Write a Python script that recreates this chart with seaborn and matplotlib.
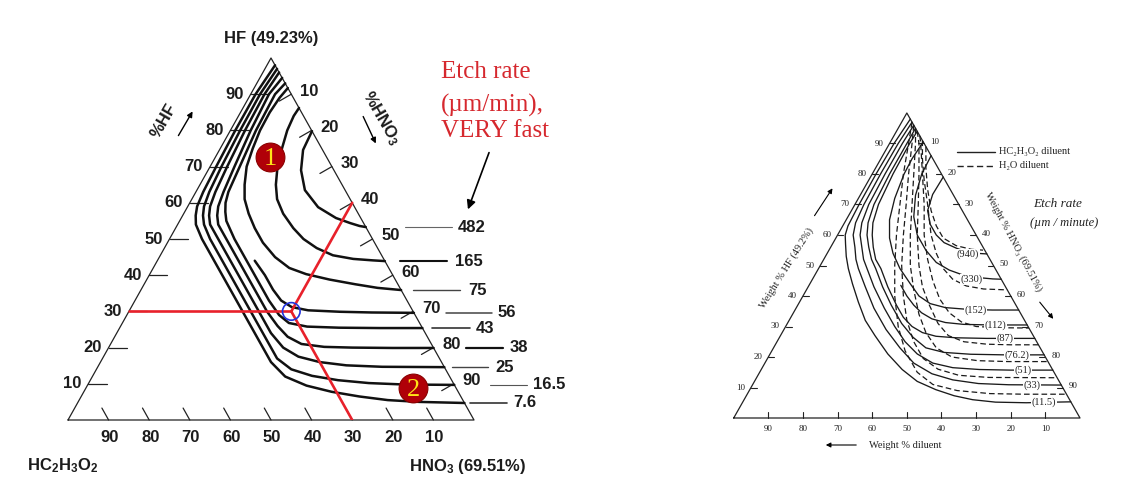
import matplotlib
matplotlib.use('Agg')
import matplotlib.pyplot as plt
import numpy as np
import pandas as pd
import seaborn as sns
from matplotlib.patches import FancyArrowPatch
from matplotlib.lines import Line2D

sns.set_theme(style='white')
plt.rcParams['font.family'] = ['Liberation Sans', 'DejaVu Sans']
plt.rcParams['mathtext.fontset'] = 'custom'
plt.rcParams['mathtext.rm'] = 'Liberation Sans:bold'
plt.rcParams['mathtext.it'] = 'Liberation Sans:bold'
plt.rcParams['mathtext.bf'] = 'Liberation Sans:bold'
plt.rcParams['mathtext.default'] = 'rm'

# ------------------------------------------------------------------
# DATA  (ternary compositions: % HF, % HNO3 ; remainder = diluent)
# ------------------------------------------------------------------
ticks = [10, 20, 30, 40, 50, 60, 70, 80, 90]

# Left diagram: iso-etch-rate curves (um/min), HC2H3O2 diluent
left_rates = ['482', '165', '75', '56', '43', '38', '25', '16.5', '7.6']
hf_482 = [79.8, 74.6, 69.0, 63.5, 58.8, 55.8, 54.4, 53.6, 53.3]
hno3_482 = [20.2, 20.6, 22.9, 26.6, 32.2, 38.1, 42.3, 45.0, 46.7]
hf_165 = [86.2, 84.0, 80.0, 75.0, 70.0, 65.0, 61.0, 57.0, 53.0, 50.0, 47.5, 45.5, 44.5, 44.1, 43.9]
hno3_165 = [13.8, 13.6, 14.0, 15.2, 16.6, 18.7, 21.0, 24.5, 29.0, 33.0, 37.5, 42.5, 48.0, 53.0, 56.1]
hf_75 = [91.7, 89.0, 85.0, 80.0, 75.0, 70.0, 65.0, 61.0, 57.0, 53.0, 49.0, 45.0, 42.0, 40.3, 38.8, 37.5, 36.5, 35.9]
hno3_75 = [8.3, 7.6, 7.2, 7.3, 8.0, 9.0, 11.0, 13.0, 16.0, 19.5, 23.5, 28.5, 33.5, 38.5, 45.0, 52.0, 58.0, 64.1]
hf_56 = [44.0, 40.0, 36.0, 33.0, 31.2, 30.3, 29.9, 29.7, 29.6]
hno3_56 = [24.0, 28.5, 32.5, 36.0, 39.5, 44.0, 52.0, 60.0, 70.4]
hf_43 = [93.0, 90.0, 80.0, 70.0, 63.0, 60.0, 57.5, 55.0, 50.0, 40.0, 33.0, 29.0, 26.8, 25.8, 25.5, 25.4, 25.4]
hno3_43 = [7.0, 6.0, 6.3, 7.3, 8.0, 8.8, 10.0, 11.5, 16.0, 26.0, 33.0, 37.5, 41.0, 46.0, 54.0, 64.0, 74.6]
hf_38 = [94.5, 90.0, 80.0, 70.0, 63.0, 59.0, 56.5, 54.0, 50.0, 40.0, 30.0, 26.0, 23.0, 21.0, 20.2, 20.0, 19.9, 19.9]
hno3_38 = [5.5, 4.5, 5.0, 6.0, 6.8, 7.5, 8.5, 10.0, 14.0, 24.0, 34.0, 38.6, 42.6, 47.0, 53.0, 60.0, 70.0, 80.1]
hf_25 = [96.0, 90.0, 80.0, 70.0, 63.0, 59.0, 56.5, 54.0, 50.0, 40.0, 30.0, 24.0, 20.0, 17.5, 16.0, 15.1, 14.7, 14.6]
hno3_25 = [4.0, 3.4, 3.6, 4.2, 4.8, 5.5, 6.5, 8.0, 12.0, 22.0, 32.0, 38.0, 43.0, 48.0, 54.0, 61.0, 70.0, 85.4]
hf_16 = [97.0, 90.0, 80.0, 70.0, 63.0, 59.0, 56.5, 54.0, 50.0, 40.0, 30.0, 22.0, 17.0, 14.0, 12.2, 11.0, 10.2, 9.8, 9.7]
hno3_16 = [3.0, 2.3, 2.4, 2.8, 3.3, 4.0, 5.0, 6.5, 10.0, 20.0, 30.0, 38.0, 43.0, 48.0, 54.0, 61.0, 69.0, 78.0, 90.3]
hf_7 = [98.0, 90.0, 80.0, 70.0, 63.0, 59.0, 56.5, 54.0, 50.0, 40.0, 30.0, 22.0, 16.0, 12.0, 9.5, 7.8, 6.5, 5.5, 5.0, 4.7]
hno3_7 = [2.0, 1.2, 1.2, 1.5, 1.8, 2.3, 3.2, 4.5, 8.0, 18.0, 28.0, 36.0, 42.0, 47.5, 54.0, 61.0, 68.5, 76.0, 84.0, 95.3]

# Composition read by the red construction lines
point_hf = [30]
point_hno3 = [40]
# numbered markers
marker_labels = ['1', '2']
marker_hf = [72.7, 8.8]
marker_hno3 = [13.4, 80.6]

# Right diagram: solid = HC2H3O2 diluent, dashed = H2O diluent
right_rates = ['(940)', '(330)', '(152)', '(112)', '(87)', '(76.2)', '(51)', '(33)', '(11.5)']
hf_r940 = [79.0, 73.3, 68.0, 63.5, 60.0, 57.5, 55.7, 54.5, 54.0, 53.8]
hno3_r940 = [21.0, 20.8, 22.0, 25.0, 28.5, 32.0, 36.4, 40.0, 43.0, 46.2]
hf_r330 = [86.0, 80.0, 73.0, 66.0, 60.0, 55.0, 51.0, 48.5, 46.8, 46.0, 45.6, 45.5]
hno3_r330 = [14.0, 14.3, 16.0, 19.0, 23.0, 28.0, 33.0, 38.0, 43.0, 48.0, 52.0, 54.5]
hf_r152 = [90.5, 85.0, 80.0, 72.0, 65.0, 59.0, 54.0, 49.0, 44.0, 40.0, 37.5, 36.2, 35.6, 35.4, 35.4]
hno3_r152 = [9.5, 9.0, 9.2, 10.5, 12.5, 15.5, 19.0, 23.5, 29.0, 33.5, 38.0, 43.0, 50.0, 57.0, 64.6]
hf_r112 = [43.5, 40.0, 37.0, 34.5, 32.5, 31.3, 30.7, 30.5, 30.5]
hno3_r112 = [26.5, 30.0, 33.5, 37.0, 41.0, 45.5, 51.0, 59.0, 69.5]
hf_r87 = [94.0, 90.0, 80.0, 70.0, 64.0, 60.0, 56.0, 52.0, 49.0, 43.0, 37.0, 33.0, 30.0, 28.0, 26.8, 26.3, 26.1, 26.1]
hno3_r87 = [6.0, 5.8, 6.0, 6.8, 8.2, 10.0, 12.3, 15.0, 18.0, 23.0, 28.5, 32.5, 36.5, 40.5, 45.0, 51.0, 60.0, 73.9]
hf_r76 = [95.0, 90.0, 80.0, 70.0, 64.0, 60.0, 56.0, 52.0, 49.0, 43.0, 37.0, 31.0, 26.5, 23.0, 21.5, 20.9, 20.7, 20.7]
hno3_r76 = [5.0, 5.0, 5.0, 5.5, 6.8, 8.5, 11.0, 13.8, 16.5, 21.5, 27.0, 33.0, 38.5, 44.0, 50.0, 58.0, 68.0, 79.3]
hf_r51 = [96.0, 90.0, 80.0, 70.0, 64.0, 60.0, 56.0, 52.0, 49.0, 43.0, 36.0, 30.0, 25.0, 21.0, 18.0, 16.5, 15.9, 15.7, 15.7]
hno3_r51 = [4.0, 3.7, 3.7, 4.0, 5.0, 6.5, 9.0, 11.5, 14.0, 19.0, 25.5, 31.5, 37.0, 42.5, 48.5, 55.0, 63.0, 72.0, 84.3]
hf_r33 = [97.0, 90.0, 80.0, 70.0, 64.0, 60.0, 56.0, 52.0, 49.0, 43.0, 36.0, 29.0, 23.0, 18.0, 14.5, 12.5, 11.3, 10.9, 10.8]
hno3_r33 = [3.0, 2.5, 2.4, 2.6, 3.2, 4.5, 7.0, 9.3, 11.5, 16.5, 22.5, 29.5, 36.5, 43.0, 50.0, 57.0, 65.0, 74.0, 89.2]
hf_r11 = [98.0, 90.0, 80.0, 70.0, 63.0, 60.0, 57.0, 53.0, 49.0, 44.0, 38.0, 32.0, 27.0, 21.0, 15.9, 12.0, 9.3, 7.3, 6.0, 5.2, 5.0, 5.2, 5.3]
hno3_r11 = [2.0, 1.3, 1.1, 1.2, 1.5, 2.2, 3.8, 6.0, 8.6, 12.3, 17.0, 22.0, 27.3, 34.0, 40.7, 47.0, 53.7, 60.0, 66.0, 73.0, 82.0, 90.0, 94.7]

hf_d1 = [89.0, 82.0, 75.0, 68.0, 63.0, 59.0, 56.5, 55.3, 55.0]
hno3_d1 = [11.0, 14.5, 18.5, 23.0, 27.0, 31.0, 36.0, 41.0, 45.0]
hf_d2 = [91.0, 85.0, 78.0, 70.0, 60.0, 54.0, 49.0, 45.5, 43.3, 42.3, 42.0]
hno3_d2 = [9.0, 12.0, 16.0, 21.0, 27.0, 31.5, 36.0, 40.5, 45.5, 51.0, 58.0]
hf_d3 = [92.5, 90.0, 80.0, 70.0, 60.0, 52.0, 45.0, 39.0, 34.5, 31.5, 30.0, 29.6, 29.5]
hno3_d3 = [7.5, 9.0, 14.5, 20.0, 25.0, 30.0, 35.0, 40.0, 45.0, 50.0, 55.0, 62.0, 70.5]
hf_d4 = [94.0, 90.0, 80.0, 70.0, 60.0, 50.0, 43.0, 37.0, 31.0, 27.0, 25.0, 24.2, 24.0, 24.0]
hno3_d4 = [6.0, 8.5, 13.5, 18.3, 23.0, 28.5, 33.0, 38.0, 43.5, 48.5, 54.0, 61.0, 68.0, 76.0]
hf_d5 = [95.0, 90.0, 80.0, 70.0, 60.0, 50.0, 42.0, 34.0, 28.0, 23.0, 20.0, 18.8, 18.5, 18.5]
hno3_d5 = [5.0, 7.5, 12.0, 16.5, 21.0, 26.0, 31.0, 36.5, 41.5, 47.0, 53.0, 61.0, 70.0, 81.5]
hf_d6 = [96.0, 90.0, 80.0, 70.0, 60.0, 50.0, 40.0, 32.0, 25.0, 19.5, 16.0, 14.0, 13.3, 13.2]
hno3_d6 = [4.0, 6.5, 10.5, 14.8, 19.0, 23.5, 29.0, 34.0, 39.5, 45.0, 51.0, 58.0, 67.0, 86.8]
hf_d7 = [97.0, 90.0, 80.0, 70.0, 60.0, 50.0, 40.0, 30.0, 22.0, 15.0, 11.0, 9.0, 8.0, 7.8, 7.8]
hno3_d7 = [3.0, 5.5, 9.0, 13.0, 17.0, 21.5, 26.5, 32.5, 38.5, 45.5, 52.0, 60.0, 70.0, 80.0, 92.2]

left_hf = [hf_482, hf_165, hf_75, hf_56, hf_43, hf_38, hf_25, hf_16, hf_7]
left_hno3 = [hno3_482, hno3_165, hno3_75, hno3_56, hno3_43, hno3_38, hno3_25, hno3_16, hno3_7]
right_hf = [hf_r940, hf_r330, hf_r152, hf_r112, hf_r87, hf_r76, hf_r51, hf_r33, hf_r11]
right_hno3 = [hno3_r940, hno3_r330, hno3_r152, hno3_r112, hno3_r87, hno3_r76, hno3_r51, hno3_r33, hno3_r11]
dash_hf = [hf_d1, hf_d2, hf_d3, hf_d4, hf_d5, hf_d6, hf_d7]
dash_hno3 = [hno3_d1, hno3_d2, hno3_d3, hno3_d4, hno3_d5, hno3_d6, hno3_d7]


# ------------------------------------------------------------------
def tern(hf, hno3):
    """ternary (HF, HNO3) -> cartesian in a 0..100 box (HF apex on top)."""
    hf = np.asarray(hf, float)
    hno3 = np.asarray(hno3, float)
    return hno3 + hf / 2.0, hf


def curves_frame(names, hfs, hnos):
    frames = []
    for n, h, q in zip(names, hfs, hnos):
        x, y = tern(h, q)
        frames.append(pd.DataFrame({'x': x, 'y': y, 'curve': n, 'k': np.arange(len(x))}))
    return pd.concat(frames, ignore_index=True)


W, H = 1148, 494
fig = plt.figure(figsize=(W / 100, H / 100), dpi=100)
fig.patch.set_facecolor('white')


def fx(px):
    return px / W


def fy(py):
    return 1 - py / H


def farrow(p0, p1, lw=1.0, ms=10, color='black'):
    a = FancyArrowPatch((fx(p0[0]), fy(p0[1])), (fx(p1[0]), fy(p1[1])),
                        transform=fig.transFigure, arrowstyle='-|>',
                        mutation_scale=ms, lw=lw, color=color)
    fig.add_artist(a)


# ============================ LEFT ================================
axL = fig.add_axes([68 / W, 74 / H, 406 / W, 362 / H])
axL.set_xlim(0, 100)
axL.set_ylim(0, 100)
axL.axis('off')
PXL = 406 / 100.0

lab_kw = dict(fontsize=12, fontweight='bold', color='#1c1c1c')

# triangle
tx, ty = tern([0, 0, 100, 0], [0, 100, 0, 0])
axL.plot(tx, ty, color='#222', lw=0.9, clip_on=False)
for v in ticks:
    # left side (HF)
    x, y = tern([v, v], [0, 4.5])
    axL.plot(x, y, color='#222', lw=0.9, clip_on=False)
    axL.annotate(str(v), xy=(x[0], y[0]), xytext=(-7, 0), textcoords='offset pixels',
                 ha='right', va='center', **lab_kw)
    # bottom (HC2H3O2)
    x, y = tern([0, 3.3], [100 - v, 100 - v - 3.3])
    axL.plot(x, y, color='#222', lw=0.9, clip_on=False)
    axL.annotate(str(v), xy=(x[0], y[0]), xytext=(1, -17), textcoords='offset pixels',
                 ha='center', va='center', **lab_kw)
    # right side (HNO3)
    x, y = tern([100 - v, 100 - v - 1.9], [v, v - 2.0])
    axL.plot(x, y, color='#222', lw=0.9, clip_on=False)
    axL.annotate(str(v), xy=(x[0], y[0]), xytext=(9, 3), textcoords='offset pixels',
                 ha='left', va='center', **lab_kw)

dfL = curves_frame(left_rates, left_hf, left_hno3)
sns.lineplot(data=dfL, x='x', y='y', units='curve', estimator=None, sort=False,
             color='#111111', lw=1.8, legend=False, ax=axL)
for ln in axL.lines:
    ln.set_solid_joinstyle('round')
    ln.set_solid_capstyle('round')

# red construction lines through the composition point, and blue circle
red = '#e8212b'
px_, py_ = tern(point_hf, point_hno3)
x, y = tern([point_hf[0], point_hf[0]], [0, point_hno3[0]])
axL.plot(x, y, color=red, lw=1.9, zorder=4)
x, y = tern([point_hf[0], 100 - point_hno3[0]], [point_hno3[0], point_hno3[0]])
axL.plot(x, y, color=red, lw=1.9, zorder=4)
x, y = tern([point_hf[0], 0], [point_hno3[0], point_hno3[0] + point_hf[0]])
axL.plot(x, y, color=red, lw=1.9, zorder=4)
axL.scatter(px_, py_, s=160, facecolors='none', edgecolors='#2233dd', linewidths=1.2, zorder=5)

# numbered markers
mx, my = tern(marker_hf, marker_hno3)
sns.scatterplot(x=mx, y=my, s=430, color='#b00008', edgecolor='#8a0000', linewidth=0.8,
                ax=axL, zorder=6, legend=False)
for t, a, b in zip(marker_labels, mx, my):
    axL.text(a, b - 0.6, t, ha='center', va='center', color='#ffe418', fontsize=19,
             family='Liberation Serif', zorder=7)

# rate labels with leader lines
lead_start = [39, 15, 12, 32, 10, 32, 8, 36, 6]
lead_end = [86, 62, 59, 78, 48, 69, 44, 73, 43]
lead_text = [92, 70, 67, 84, 53, 76, 51, 79, 49]
lead_lw = [0.8, 1.5, 1.0, 1.1, 1.2, 1.6, 1.0, 0.8, 1.2]
lead_col = ['#666', '#111', '#444', '#444', '#333', '#111', '#444', '#555', '#333']
for name, h, q, s0, e0, t0, lw, c in zip(left_rates, left_hf, left_hno3, lead_start,
                                          lead_end, lead_text, lead_lw, lead_col):
    xe, ye = tern([h[-1]], [q[-1]])
    axL.plot([xe[0] + s0 / PXL, xe[0] + e0 / PXL], [ye[0], ye[0]], color=c, lw=lw, clip_on=False)
    axL.text(xe[0] + t0 / PXL, ye[0], name, ha='left', va='center', clip_on=False, **lab_kw)

# vertex titles
axL.annotate('HF (49.23%)', xy=(50, 100), xytext=(0, 20), textcoords='offset pixels',
             ha='center', va='center', **lab_kw)
axL.annotate(r'HC$_2$H$_3$O$_2$', xy=(0, 0), xytext=(-41, -46), textcoords='offset pixels',
             ha='left', va='center', **lab_kw)
axL.annotate(r'HNO$_3$ (69.51%)', xy=(100, 0), xytext=(-6, -46), textcoords='offset pixels',
             ha='center', va='center', **lab_kw)

fig.text(fx(164), fy(121), '%HF', rotation=60, ha='center', va='center', **lab_kw)
farrow((177, 138), (194, 109), lw=1.0, ms=8)
fig.text(fx(381), fy(118), r'%HNO$_3$', rotation=-60, ha='center', va='center', **lab_kw)
farrow((362, 114), (377, 146), lw=1.0, ms=8)

red_txt = '#d6282e'
for s, yy in [('Etch rate', 72), ('(\u00b5m/min),', 105), ('VERY fast', 131)]:
    fig.text(fx(441), fy(yy), s, ha='left', va='center', color=red_txt, fontsize=18,
             family='Liberation Serif')
farrow((490, 150), (467, 212), lw=1.2, ms=13)

# ============================ RIGHT ===============================
axR = fig.add_axes([733.7 / W, 76 / H, 346.3 / W, 305 / H])
axR.set_xlim(0, 100)
axR.set_ylim(0, 100)
axR.axis('off')
PXR = 346.3 / 100.0

serif = ['Liberation Serif', 'DejaVu Serif']
small = dict(fontsize=6.5, family=serif, color='#222')

tx, ty = tern([0, 0, 100, 0], [0, 100, 0, 0])
axR.plot(tx, ty, color='#222', lw=0.9, clip_on=False)
for v in ticks:
    x, y = tern([v, v], [0, 1.7])
    axR.plot(x, y, color='#222', lw=0.8, clip_on=False)
    axR.annotate(str(v), xy=(x[0], y[0]), xytext=(-6, 0), textcoords='offset pixels',
                 ha='right', va='center', **small)
    x, y = tern([0, 2.0], [100 - v, 100 - v - 1.0])
    axR.plot(x, y, color='#222', lw=0.8, clip_on=False)
    axR.annotate(str(v), xy=(x[0], y[0]), xytext=(0, -11), textcoords='offset pixels',
                 ha='center', va='center', **small)
    x, y = tern([100 - v, 100 - v], [v, v - 1.7])
    axR.plot(x, y, color='#222', lw=0.8, clip_on=False)
    axR.annotate(str(v), xy=(x[0], y[0]), xytext=(6, 1), textcoords='offset pixels',
                 ha='left', va='center', **small)

dfR = curves_frame(right_rates, right_hf, right_hno3)
sns.lineplot(data=dfR, x='x', y='y', units='curve', estimator=None, sort=False,
             color='#1a1a1a', lw=0.95, legend=False, ax=axR)
dfD = curves_frame([f'd{i}' for i in range(len(dash_hf))], dash_hf, dash_hno3)
sns.lineplot(data=dfD, x='x', y='y', units='curve', estimator=None, sort=False,
             color='#1a1a1a', lw=0.9, legend=False, ax=axR, dashes=False)
for ln in axR.lines[-len(dash_hf):]:
    ln.set_dashes((4.5, 2.5))

lab_dx = [19, 30, 43, 32, 30, 27, 30, 29, 27]
for name, h, q, d in zip(right_rates, right_hf, right_hno3, lab_dx):
    xe, ye = tern([h[-1]], [q[-1]])
    axR.text(xe[0] - d / PXR, ye[0], name, ha='center', va='center', fontsize=7.5,
             family=serif, color='#222', zorder=6,
             bbox=dict(boxstyle='square,pad=0.05', fc='white', ec='none'))

fig.text(fx(787), fy(268), 'Weight % HF (49.2%)', rotation=58, ha='center', va='center',
         fontsize=7.5, family=serif, color='#222')
farrow((813, 218), (834, 186), lw=0.8, ms=7)
fig.text(fx(1013), fy(242), 'Weight % HNO\u2083 (69.51%)', rotation=-62, ha='center',
         va='center', fontsize=7.5, family=serif, color='#222')
farrow((1038, 300), (1055, 321), lw=0.8, ms=7)
fig.text(fx(905), fy(445), 'Weight % diluent', ha='center', va='center', fontsize=7.5,
         family=serif, color='#222')
farrow((859, 445), (823, 445), lw=0.8, ms=7)

fig.add_artist(Line2D([fx(957), fx(995)], [fy(152), fy(152)], transform=fig.transFigure,
                      color='#222', lw=1.0))
fig.add_artist(Line2D([fx(957), fx(995)], [fy(166), fy(166)], transform=fig.transFigure,
                      color='#222', lw=1.0, dashes=(4.5, 2.5)))
fig.text(fx(999), fy(152), 'HC\u2082H\u2083O\u2082 diluent', ha='left', va='center',
         fontsize=7.5, family=serif, color='#222')
fig.text(fx(999), fy(166), 'H\u2082O diluent', ha='left', va='center',
         fontsize=7.5, family=serif, color='#222')
fig.text(fx(1033), fy(204), 'Etch rate', ha='left', va='center', fontsize=9.5,
         family=serif, style='italic', color='#222')
fig.text(fx(1030), fy(223), '(\u00b5m / minute)', ha='left', va='center', fontsize=9,
         family=serif, style='italic', color='#222')

fig.savefig('out.png', dpi=100, facecolor='white')
